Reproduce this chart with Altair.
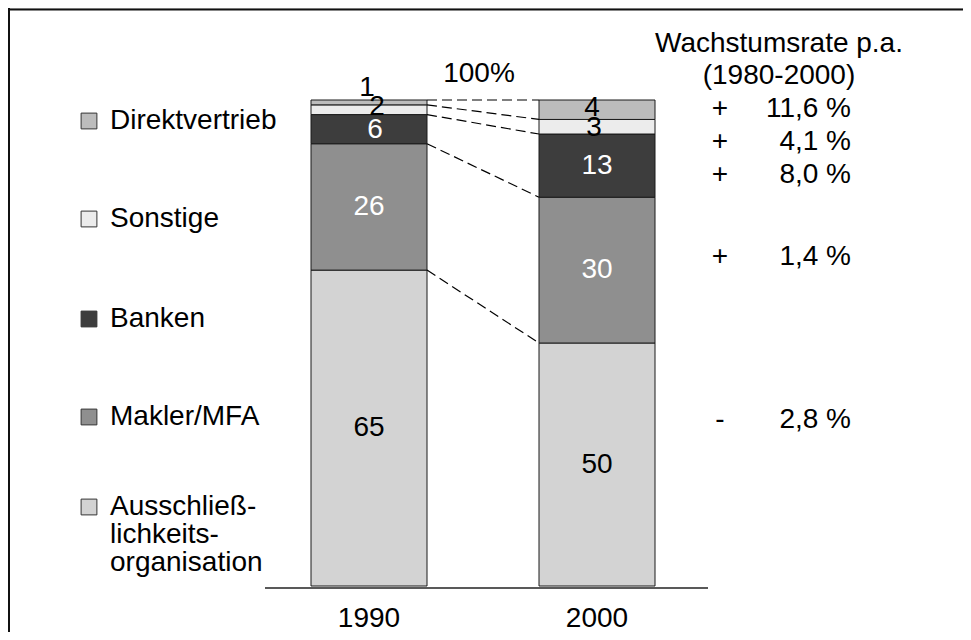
import altair as alt
import pandas as pd

# ---------------- data ----------------
years = ["1990", "2000"]
categories = ["Ausschließlichkeitsorganisation", "Makler/MFA", "Banken", "Sonstige", "Direktvertrieb"]
legend_labels = ["Ausschließ-\nlichkeits-\norganisation", "Makler/MFA", "Banken", "Sonstige", "Direktvertrieb"]
shares_1990 = [65, 26, 6, 2, 1]
shares_2000 = [50, 30, 13, 3, 4]
growth_rates = [-2.8, 1.4, 8.0, 4.1, 11.6]  # Wachstumsrate p.a. (1980-2000)

# ---------------- styles / layout ----------------
FONT = "Liberation Sans"
FS = 28
fills = ["#d3d3d3", "#8f8f8f", "#3d3d3d", "#ececec", "#bcbcbc"]
label_fill = ["black", "white", "white", "black", "black"]
W, H = 955, 624
X_RANGE = [361, 589]          # pixel centres of bar 0 and bar 1
Y_RANGE = [578, 92]           # pixel of 0 % and 100 %
PX_PER_X = X_RANGE[1] - X_RANGE[0]
PX_PER_Y = (Y_RANGE[0] - Y_RANGE[1]) / 100
HALF_BAR = 58 / PX_PER_X
# small pixel nudges for crowded labels (year, category) -> (dx, dy)
nudges = {("1990", "Direktvertrieb"): (-2, -14),
          ("1990", "Sonstige"): (8, -3),
          ("1990", "Banken"): (6, 1),
          ("2000", "Direktvertrieb"): (-5, -2),
          ("2000", "Sonstige"): (-3, 1)}
legend_baselines = [507, 417, 319, 219, 121]
growth_baselines = [420, 257, 175, 142, 109]

x_scale = alt.Scale(domain=[0, 1], range=X_RANGE, nice=False, zero=False)
y_scale = alt.Scale(domain=[0, 100], range=Y_RANGE, nice=False, zero=False)

# ---------------- build tables ----------------
rows, labels = [], []
for i, (yr, shares) in enumerate(zip(years, [shares_1990, shares_2000])):
    cum = 0
    for c, s, lc in zip(categories, shares, label_fill):
        dx, dy = nudges.get((yr, c), (0, 0))
        rows.append({"year": yr, "cat": c, "x0": i - HALF_BAR, "x1": i + HALF_BAR,
                     "y0": cum, "y1": cum + s})
        labels.append({"cat": c, "value": str(s), "lc": lc,
                       "lx": i + dx / PX_PER_X, "ly": cum + s / 2 - dy / PX_PER_Y})
        cum += s
bars = pd.DataFrame(rows)
bar_labels = pd.DataFrame(labels)

tops_a = pd.Series(shares_1990).cumsum().tolist()
tops_b = pd.Series(shares_2000).cumsum().tolist()
connectors = pd.DataFrame({"xa": [HALF_BAR] * 5, "xb": [1 - HALF_BAR] * 5,
                           "ya": tops_a, "yb": tops_b})

year_df = pd.DataFrame({"year": years, "idx": [0, 1]})
legend_df = pd.DataFrame({"cat": categories, "label": legend_labels,
                          "ty": legend_baselines,
                          "sy": [b - 8 for b in legend_baselines]})
growth_df = pd.DataFrame({
    "sign": ["+" if g > 0 else "-" for g in growth_rates],
    "num": [f"{abs(g):.1f} %".replace(".", ",") for g in growth_rates],
    "ty": growth_baselines})

color = alt.Color("cat:N", scale=alt.Scale(domain=categories, range=fills), legend=None)

# ---------------- layers ----------------
bar_layer = alt.Chart(bars).mark_rect(stroke="#1a1a1a", strokeWidth=1).encode(
    x=alt.X("x0:Q", scale=x_scale, axis=None), x2="x1:Q",
    y=alt.Y("y0:Q", scale=y_scale, axis=None), y2="y1:Q",
    color=color)

label_layer = alt.Chart(bar_labels).mark_text(font=FONT, fontSize=FS, baseline="middle").encode(
    x=alt.X("lx:Q", scale=x_scale), y=alt.Y("ly:Q", scale=y_scale),
    text="value:N", color=alt.Color("lc:N", scale=None))

conn_layer = alt.Chart(connectors).mark_rule(color="black", strokeWidth=1.2, strokeDash=[10, 5]).encode(
    x=alt.X("xa:Q", scale=x_scale), x2="xb:Q",
    y=alt.Y("ya:Q", scale=y_scale), y2="yb:Q")

year_layer = alt.Chart(year_df).mark_text(font=FONT, fontSize=FS, baseline="alphabetic").encode(
    x=alt.X("idx:Q", scale=x_scale), y=alt.value(619), text="year:N")

baseline_layer = alt.Chart(pd.DataFrame({"a": [0]})).mark_rule(color="#222", strokeWidth=1.5).encode(
    x=alt.value(257), x2=alt.value(700), y=alt.value(580))

frame_top = alt.Chart(pd.DataFrame({"a": [0]})).mark_rule(color="#111", strokeWidth=2).encode(
    x=alt.value(0), x2=alt.value(W), y=alt.value(1.5))
frame_left = alt.Chart(pd.DataFrame({"a": [0]})).mark_rule(color="#111", strokeWidth=2).encode(
    x=alt.value(1), y=alt.value(0), y2=alt.value(H))

legend_sq = alt.Chart(legend_df).mark_square(size=250, stroke="#333", strokeWidth=1, opacity=1).encode(
    x=alt.value(81), y=alt.Y("sy:Q", scale=None), color=color)
legend_tx = alt.Chart(legend_df).mark_text(font=FONT, fontSize=FS, align="left", baseline="alphabetic",
                                           lineBreak="\n", lineHeight=28).encode(
    x=alt.value(102), y=alt.Y("ty:Q", scale=None), text="label:N")

header = alt.Chart(pd.DataFrame({"t": ["Wachstumsrate p.a.", "(1980-2000)"], "ty": [44, 76]})).mark_text(
    font=FONT, fontSize=FS, align="center", baseline="alphabetic").encode(
    x=alt.value(771), y=alt.Y("ty:Q", scale=None), text="t:N")
hundred = alt.Chart(pd.DataFrame({"t": ["100%"]})).mark_text(
    font=FONT, fontSize=FS, align="center", baseline="alphabetic").encode(
    x=alt.value(471), y=alt.value(74), text="t:N")
sign_layer = alt.Chart(growth_df).mark_text(font=FONT, fontSize=FS, align="center", baseline="alphabetic").encode(
    x=alt.value(712), y=alt.Y("ty:Q", scale=None), text="sign:N")
num_layer = alt.Chart(growth_df).mark_text(font=FONT, fontSize=FS, align="right", baseline="alphabetic").encode(
    x=alt.value(843), y=alt.Y("ty:Q", scale=None), text="num:N")

chart = alt.layer(
    frame_top, frame_left, bar_layer, conn_layer, label_layer, baseline_layer, year_layer,
    legend_sq, legend_tx, header, hundred, sign_layer, num_layer
).properties(
    width=W, height=H, padding=0, autosize=alt.AutoSizeParams(type="none")
).configure_view(stroke=None).configure(background="white")

chart.save("out.html", embed_options={"renderer": "svg", "actions": False})
